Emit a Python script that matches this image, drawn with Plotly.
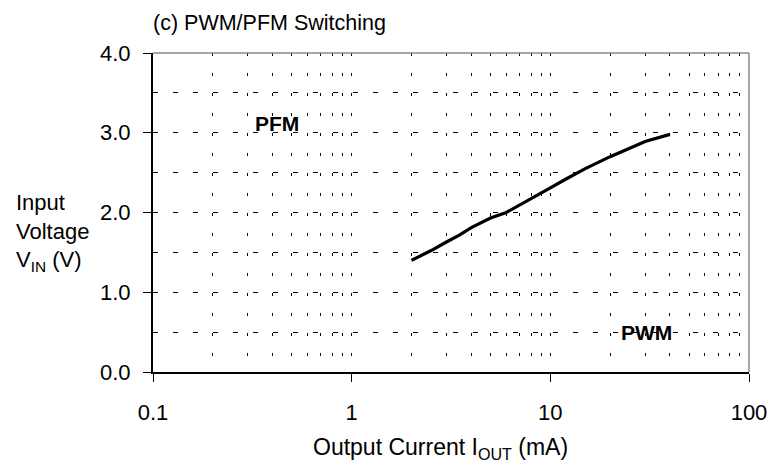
import plotly.graph_objects as go

current_ma = [2, 2.5, 3, 3.5, 4, 5, 6, 8, 10, 12, 15, 20, 30, 40]
vin_v = [1.4, 1.52, 1.63, 1.72, 1.81, 1.93, 2.0, 2.18, 2.31, 2.42, 2.55, 2.7, 2.89, 2.98]

x_tick_vals = [0.1, 1, 10, 100]
x_tick_text = ["0.1", "1", "10", "100"]
x_minor_vals = [k * 10 ** d for d in (-1, 0, 1) for k in range(2, 10)]
y_tick_vals = [0, 1, 2, 3, 4]
y_tick_text = ["0.0", "1.0", "2.0", "3.0", "4.0"]

FONT = "Liberation Sans"

fig = go.Figure()
fig.add_trace(go.Scatter(x=current_ma, y=vin_v, mode="lines",
                         line=dict(color="black", width=3.2), showlegend=False))

fig.add_annotation(x=-0.376, y=3.12, xref="x", yref="y", text="<b>PFM</b>",
                   showarrow=False, font=dict(size=21, color="black", family=FONT))
fig.add_annotation(x=1.482, y=0.5, xref="x", yref="y", text="<b>PWM</b>",
                   showarrow=False, font=dict(size=21, color="black", family=FONT))

# title
fig.add_annotation(x=-0.003, y=1.05, xref="paper", yref="paper", text="(c) PWM/PFM Switching",
                   xanchor="left", yanchor="bottom", showarrow=False,
                   font=dict(size=21.5, color="black", family=FONT))
# y title
fig.add_annotation(x=-0.2333, y=0.436, xref="paper", yref="paper",
                   text="Input<br>Voltage<br>V<sub>IN</sub> (V)", align="left",
                   xanchor="left", yanchor="middle", showarrow=False,
                   font=dict(size=22, color="black", family=FONT))
# x title
fig.add_annotation(x=0.4817, y=-0.241, xref="paper", yref="paper",
                   text="Output Current I<sub>OUT</sub> (mA)",
                   xanchor="center", yanchor="middle", showarrow=False,
                   font=dict(size=23, color="black", family=FONT))

# top/right border
fig.add_shape(type="line", xref="paper", yref="paper", x0=0, x1=1, y0=1, y1=1,
              line=dict(color="#888888", width=1.5))
fig.add_shape(type="line", xref="paper", yref="paper", x0=1, x1=1, y0=0, y1=1,
              line=dict(color="#888888", width=1.5))

fig.update_xaxes(type="log", range=[-1, 2], tickvals=x_tick_vals, ticktext=x_tick_text,
                 ticks="outside", ticklen=8, tickcolor="black", tickwidth=1,
                 ticklabelstandoff=12,
                 showline=True, linecolor="black", linewidth=2,
                 showgrid=True, gridcolor="black", gridwidth=1, griddash="3px,17px",
                 minor=dict(tickvals=x_minor_vals, showgrid=True, gridcolor="black",
                            gridwidth=1, griddash="3px,17px", ticks=""),
                 tickfont=dict(size=22, color="black", family=FONT),
                 zeroline=False)
fig.update_yaxes(range=[0, 4], tickvals=y_tick_vals, ticktext=y_tick_text,
                 ticks="outside", ticklen=8, tickcolor="black", tickwidth=1,
                 ticklabelstandoff=8,
                 showline=True, linecolor="black", linewidth=2,
                 showgrid=True, gridcolor="black", gridwidth=1, griddash="5px,15px",
                 minor=dict(dtick=0.5, showgrid=True, gridcolor="black",
                            gridwidth=1, griddash="5px,15px", ticks=""),
                 tickfont=dict(size=22, color="black", family=FONT),
                 zeroline=False)

# the page body adds an 8px offset; size the figure so the plot area lands in place
fig.update_layout(width=771, height=458, margin=dict(l=145, r=26, t=45, b=94),
                  plot_bgcolor="white", paper_bgcolor="white",
                  font=dict(family=FONT, color="black"))

fig.write_html("out.html")
